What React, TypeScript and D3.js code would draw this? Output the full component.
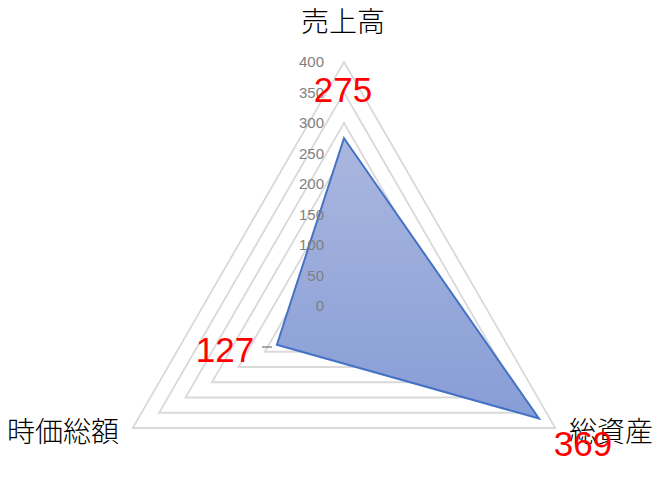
import React from "react";
import * as d3 from "d3";

const categories = ["売上高", "総資産", "時価総額"];
const values = [275, 369, 127];
const ticks = [0, 50, 100, 150, 200, 250, 300, 350, 400];

const W = 667;
const H = 478;
const cx = 344;
const cy = 306;
const R = 244;

export default function App() {
  const r = d3.scaleLinear().domain([0, 400]).range([0, R]);
  const angle = (i: number) => (i * 2 * Math.PI) / categories.length;
  const pt = (i: number, v: number): [number, number] => [
    cx + r(v) * Math.sin(angle(i)),
    cy - r(v) * Math.cos(angle(i)),
  ];
  const line = d3.line<[number, number]>().curve(d3.curveLinearClosed);
  const gridTicks = ticks.filter((t) => t > 0);
  const dataPts = values.map((v, i) => pt(i, v));
  const topY = d3.min(dataPts, (d) => d[1])!;
  const botY = d3.max(dataPts, (d) => d[1])!;

  const catFont = "'Noto Sans CJK JP', sans-serif";
  const numFont = "'Liberation Sans', Arial, sans-serif";

  const catPos: { x: number; y: number; anchor: string }[] = [
    { x: cx - 1, y: 32, anchor: "middle" },
    { x: 611, y: 442, anchor: "middle" },
    { x: 63, y: 442, anchor: "middle" },
  ];
  const labelPos = [
    { x: 343, y: 102 },
    { x: 583, y: 456 },
    { x: 225, y: 362 },
  ];

  return (
    <svg width={W} height={H} style={{ position: "absolute", left: 0, top: 0, background: "#fff" }}>
      <defs>
        <linearGradient id="fillg" gradientUnits="userSpaceOnUse" x1={0} y1={topY} x2={0} y2={botY}>
          <stop offset="0%" stopColor="#aab7df" />
          <stop offset="100%" stopColor="#879dd6" />
        </linearGradient>
      </defs>
      {gridTicks.map((t) => (
        <path
          key={t}
          d={line(categories.map((_, i) => pt(i, t)))!}
          fill="none"
          stroke="#d9d9d9"
          strokeWidth={1.8}
        />
      ))}
      <path d={line(dataPts)!} fill="url(#fillg)" stroke="#4472c4" strokeWidth={2} strokeLinejoin="miter" />
      {ticks.map((t) => (
        <text
          key={t}
          x={324}
          y={cy - r(t)}
          dy="0.35em"
          textAnchor="end"
          fontFamily={numFont}
          fontSize={15}
          fill="#7f7f7f"
        >
          {t}
        </text>
      ))}
      <line x1={262} y1={347} x2={272} y2={347} stroke="#8c8c8c" strokeWidth={1.5} />
      {categories.map((c, i) => (
        <text
          key={c}
          x={catPos[i].x}
          y={catPos[i].y}
          textAnchor={catPos[i].anchor}
          fontFamily={catFont}
          fontWeight={300}
          fontSize={28}
          fill="#000"
        >
          {c}
        </text>
      ))}
      {values.map((v, i) => (
        <text
          key={i}
          x={labelPos[i].x}
          y={labelPos[i].y}
          textAnchor="middle"
          fontFamily={numFont}
          fontSize={35}
          fill="#ff0000"
        >
          {v}
        </text>
      ))}
    </svg>
  );
}
